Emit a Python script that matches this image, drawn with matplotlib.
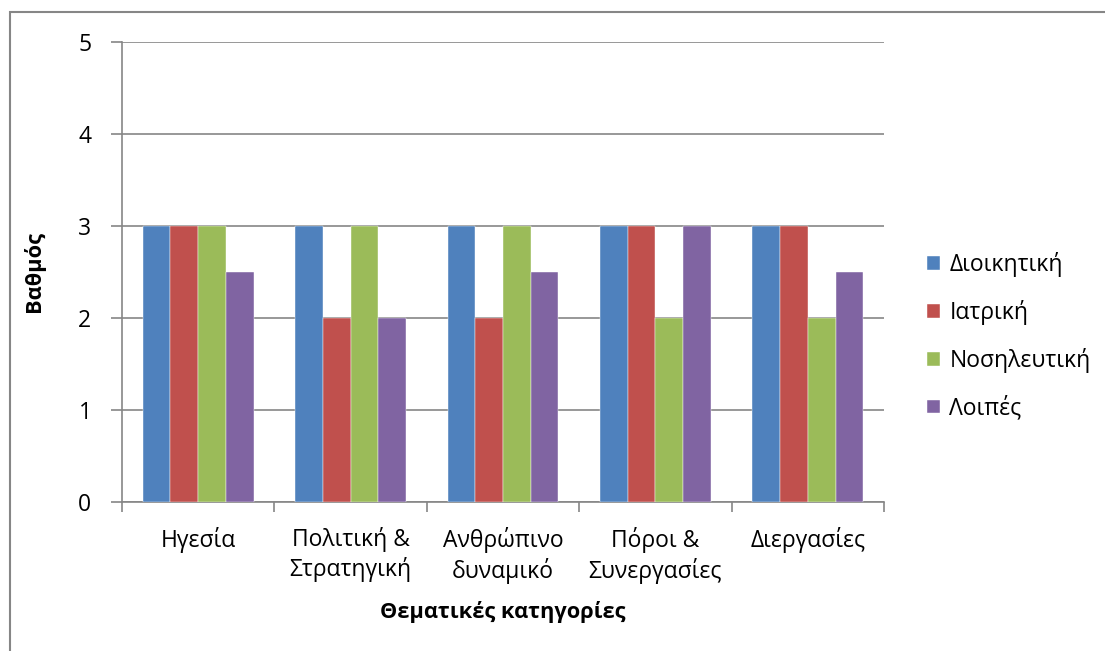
import matplotlib
matplotlib.use("Agg")
import matplotlib.pyplot as plt
import numpy as np
from matplotlib.patches import Rectangle

plt.rcParams['font.family'] = ['Open Sans', 'DejaVu Sans']

categories = ["Ηγεσία", "Πολιτική &\nΣτρατηγική", "Ανθρώπινο\nδυναμικό",
              "Πόροι &\nΣυνεργασίες", "Διεργασίες"]
series_names = ["Διοικητική", "Ιατρική", "Νοσηλευτική", "Λοιπές"]
dioikitiki = [3, 3, 3, 3, 3]
iatriki = [3, 2, 2, 3, 3]
nosileftiki = [3, 3, 3, 2, 2]
loipes = [2.5, 2, 2.5, 3, 2.5]
colors = ["#4F81BD", "#C0504D", "#9BBB59", "#8064A2"]
yticks = [0, 1, 2, 3, 4, 5]

grid_col = "#868686"
fs = 16.5

fig = plt.figure(figsize=(11.05, 6.51), dpi=100)
fig.patches.append(Rectangle((10 / 1105, -0.1), 1.2, 1.1 - 12 / 651,
                             transform=fig.transFigure, fill=False,
                             edgecolor=grid_col, linewidth=1.5, zorder=0))

ax = fig.add_axes([122 / 1105, 1 - 502 / 651, (884 - 122) / 1105, (502 - 42) / 651])

x = np.arange(len(categories))
w = 1 / 5.5
data = [dioikitiki, iatriki, nosileftiki, loipes]
for i, (vals, name, c) in enumerate(zip(data, series_names, colors)):
    ax.bar(x + (i - 1.5) * w, vals, width=w, color=c, label=name, zorder=3,
           edgecolor="white", linewidth=0.3)

ax.set_xlim(-0.5, len(categories) - 0.5)
ax.set_ylim(0, 5)
ax.set_yticks(yticks)
ax.set_yticklabels([str(t) for t in yticks], fontsize=fs)
ax.yaxis.grid(True, color=grid_col, linewidth=1.2, zorder=0)
ax.tick_params(axis='y', length=8, color=grid_col, width=1.2, pad=14)

ax.set_xticks(x)
ax.set_xticklabels(categories, fontsize=fs, linespacing=1.25)
ax.set_xticks(np.arange(-0.5, len(categories)), minor=True)
ax.tick_params(axis='x', which='major', length=0, pad=18)
ax.tick_params(axis='x', which='minor', length=7, color=grid_col, width=1.2)

for s in ['top', 'right']:
    ax.spines[s].set_visible(False)
for s in ['left', 'bottom']:
    ax.spines[s].set_color(grid_col)
    ax.spines[s].set_linewidth(1.2)

ax.set_xlabel("Θεματικές κατηγορίες", fontsize=15.7, fontweight='bold', labelpad=12)
ax.set_ylabel("Βαθμός", fontsize=15.7, fontweight='bold', labelpad=24)

leg = ax.legend(loc='center left', bbox_to_anchor=(1.03, 0.36), frameon=False,
                fontsize=fs, handlelength=0.55, handleheight=0.55,
                handletextpad=0.4, labelspacing=1.0)

fig.savefig("out.png", dpi=100)
